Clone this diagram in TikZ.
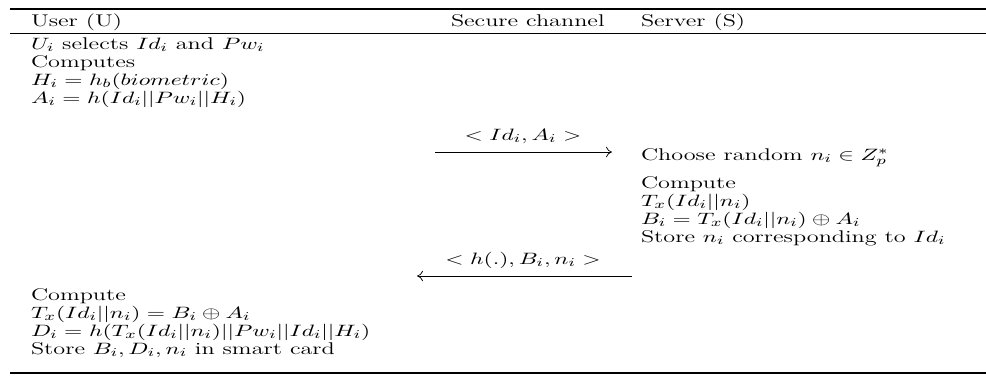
\documentclass[tikz,border=0pt]{standalone}
\usetikzlibrary{arrows.meta}
\newcommand{\wtext}[1]{\scalebox{1.43}[1]{#1}}
\tikzset{
  txt/.style={anchor=base west, inner sep=0pt, outer sep=0pt, font=\fontsize{11.3}{13}\selectfont},
  lbl/.style={anchor=base, inner sep=0pt, font=\fontsize{11.3}{13}\selectfont},
  thickrule/.style={line width=0.8pt},
  thinrule/.style={line width=0.5pt},
  msg/.style={line width=0.5pt, -{Computer Modern Rightarrow[length=4pt,width=7pt]}}
}
\begin{document}
\begin{tikzpicture}[x=0.6667pt, y=-0.6667pt]
\useasboundingbox (0,0) rectangle (986,375);
% rules
\coordinate (tl) at (10,9);   \coordinate (tr) at (986,9);
\coordinate (hl) at (10,33);  \coordinate (hr) at (986,33);
\coordinate (bl) at (10,373); \coordinate (br) at (986,373);
\draw[thickrule] (tl) -- (tr);
\draw[thinrule] (hl) -- (hr);
\draw[thickrule] (bl) -- (br);
% header
\node[txt] (hU) at (31,26) {\wtext{User (U)}};
\node[txt] (hC) at (451,26) {\wtext{Secure channel}};
\node[txt] (hS) at (641,26) {\wtext{Server (S)}};
% user side
\node[txt] (u1) at (31,49) {\wtext{$U_i$ selects $Id_i$ and $Pw_i$}};
\node[txt] (u2) at (31,67) {\wtext{Computes}};
\node[txt] (u3) at (31,85) {\wtext{$H_i=h_b(biometric)$}};
\node[txt] (u4) at (31,103) {\wtext{$A_i=h(Id_i||Pw_i||H_i)$}};
% message 1
\coordinate (m1s) at (435,152);
\coordinate (m1e) at (612,152);
\draw[msg] (m1s) -- (m1e);
\node[lbl] (l1) at (523,140) {\wtext{$<Id_i,A_i>$}};
% server side
\node[txt] (s1) at (641,160) {\wtext{Choose random $n_i\in Z_p^*$}};
\node[txt] (s2) at (641,188) {\wtext{Compute}};
\node[txt] (s3) at (641,206) {\wtext{$T_x(Id_i||n_i)$}};
\node[txt] (s4) at (641,224) {\wtext{$B_i=T_x(Id_i||n_i)\oplus A_i$}};
\node[txt] (s5) at (641,242) {\wtext{Store $n_i$ corresponding to $Id_i$}};
% message 2
\coordinate (m2s) at (632,276);
\coordinate (m2e) at (417,276);
\draw[msg] (m2s) -- (m2e);
\node[lbl] (l2) at (523,264) {\wtext{$<h(.),B_i,n_i>$}};
% user side again
\node[txt] (v1) at (31,300) {\wtext{Compute}};
\node[txt] (v2) at (31,318) {\wtext{$T_x(Id_i||n_i)=B_i\oplus A_i$}};
\node[txt] (v3) at (31,336) {\wtext{$D_i=h(T_x(Id_i||n_i)||Pw_i||Id_i||H_i)$}};
\node[txt] (v4) at (31,354) {\wtext{Store $B_i,D_i,n_i$ in smart card}};
\end{tikzpicture}
\end{document}
